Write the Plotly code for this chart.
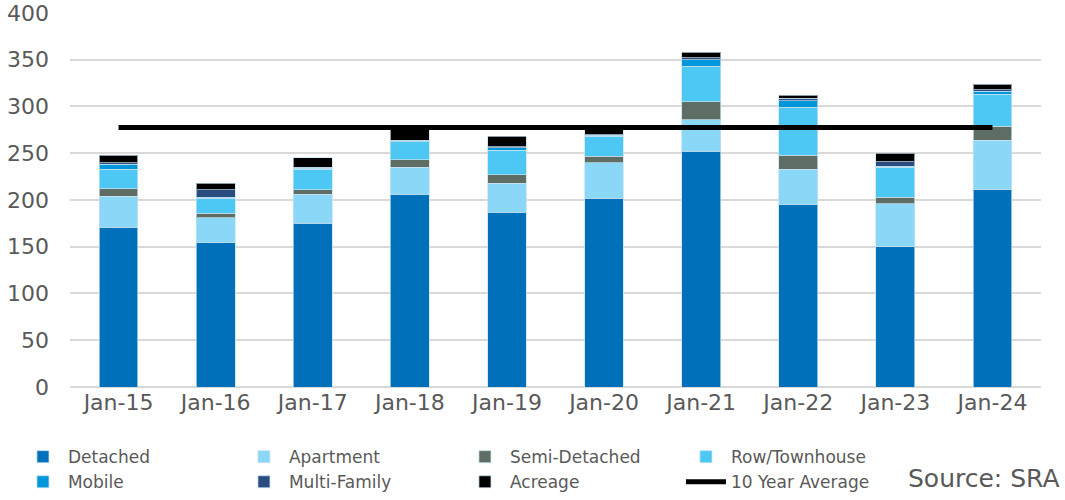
import plotly.graph_objects as go

categories = ["Jan-15", "Jan-16", "Jan-17", "Jan-18", "Jan-19",
              "Jan-20", "Jan-21", "Jan-22", "Jan-23", "Jan-24"]

detached      = [171, 154, 175, 206, 187, 202, 252, 195, 150, 211]
apartment     = [33, 27, 31, 29, 31, 38, 34, 38, 46, 53]
semi_detached = [8, 5, 5, 8, 9, 7, 19, 15, 7, 15]
row_townhouse = [21, 16, 22, 19, 26, 21, 38, 51, 32, 34]
mobile        = [5, 1, 1, 1, 3, 1, 7, 7, 1, 3]
multi_family  = [2, 8, 1, 1, 1, 1, 2, 3, 5, 2]
acreage       = [8, 7, 10, 12, 11, 6, 6, 3, 9, 6]
ten_year_avg  = [277.5] * 10

y_ticks = [0, 50, 100, 150, 200, 250, 300, 350, 400]

series = [
    ("Detached", detached, "#0070BA"),
    ("Apartment", apartment, "#8AD7F8"),
    ("Semi-Detached", semi_detached, "#5F6E64"),
    ("Row/Townhouse", row_townhouse, "#4DC8F5"),
    ("Mobile", mobile, "#0096DB"),
    ("Multi-Family", multi_family, "#2B4C7E"),
    ("Acreage", acreage, "#000000"),
]

fig = go.Figure()
for name, vals, color in series:
    fig.add_trace(go.Bar(
        x=categories, y=vals, name=name,
        marker=dict(color=color, line=dict(color="rgba(200,225,240,0.7)", width=1)),
    ))

fig.add_trace(go.Scatter(
    x=categories, y=ten_year_avg, name="10 Year Average",
    mode="lines", line=dict(color="#000000", width=5),
))

fig.update_layout(
    width=1065, height=500,
    barmode="stack", bargap=0.6,
    plot_bgcolor="white", paper_bgcolor="white",
    margin=dict(l=70, r=24, t=12, b=113, autoexpand=False),
    font=dict(family="DejaVu Sans", color="#595959"),
    showlegend=True,
    legend=dict(
        orientation="h", x=-0.0536, y=-0.139,
        yanchor="top", xanchor="left",
        traceorder="normal",
        entrywidth=166, entrywidthmode="pixels",
        font=dict(size=17, color="#595959", family="DejaVu Sans"),
        tracegroupgap=0, itemwidth=40,
    ),
    annotations=[dict(
        text="Source: SRA", xref="paper", yref="paper",
        x=1.0216, y=-0.243, xanchor="right", yanchor="middle",
        showarrow=False, font=dict(size=25, color="#595959"),
    )],
)

fig.update_xaxes(
    showgrid=False, showline=False, ticks="", tickangle=0,
    tickfont=dict(size=22, color="#595959"),
)
fig.update_yaxes(
    range=[0, 401], tickvals=y_ticks,
    showgrid=True, gridcolor="#D9D9D9", gridwidth=1.5,
    zeroline=True, zerolinecolor="#D9D9D9", zerolinewidth=1.5,
    tickfont=dict(size=22, color="#595959"), ticks="",
    ticklabelstandoff=20, ticklabeloverflow="allow",
)

# remove the default page margin so the 1065x500 figure fills the window exactly
fig.write_html(
    "out.html",
    config={"displayModeBar": False},
    post_script="document.body.style.margin='0';document.body.style.overflow='hidden';",
)
